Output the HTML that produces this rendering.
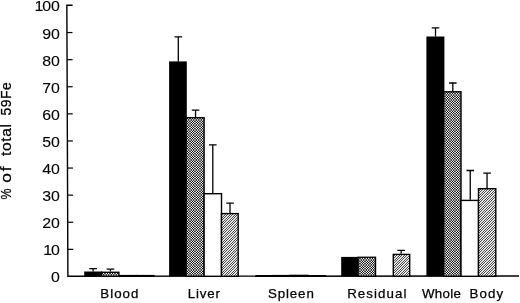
<!DOCTYPE html>
<html><head><meta charset="utf-8"><title>Chart</title>
<style>
html,body{margin:0;padding:0;background:#fff;}
svg{display:block}
.t{font-family:"Liberation Sans",sans-serif;font-size:13.3px;fill:#000;stroke:#000;stroke-width:0.25px;}
.n{font-family:"Liberation Sans",sans-serif;font-size:14.1px;fill:#000;stroke:#000;stroke-width:0.1px;}
.v{font-size:13.9px}
</style></head><body>
<svg width="520" height="303" viewBox="0 0 520 303">
<defs>
<pattern id="chk" x="0" y="0" width="5" height="5" patternUnits="userSpaceOnUse" shape-rendering="crispEdges"><rect x="0" y="0" width="1" height="1" fill="#979797"/><rect x="1" y="0" width="1" height="1" fill="#434343"/><rect x="2" y="0" width="1" height="1" fill="#cacaca"/><rect x="3" y="0" width="1" height="1" fill="#434343"/><rect x="4" y="0" width="1" height="1" fill="#979797"/><rect x="0" y="1" width="1" height="1" fill="#434343"/><rect x="1" y="1" width="1" height="1" fill="#ffffff"/><rect x="2" y="1" width="1" height="1" fill="#000000"/><rect x="3" y="1" width="1" height="1" fill="#ffffff"/><rect x="4" y="1" width="1" height="1" fill="#434343"/><rect x="0" y="2" width="1" height="1" fill="#cacaca"/><rect x="1" y="2" width="1" height="1" fill="#000000"/><rect x="2" y="2" width="1" height="1" fill="#ffffff"/><rect x="3" y="2" width="1" height="1" fill="#000000"/><rect x="4" y="2" width="1" height="1" fill="#cacaca"/><rect x="0" y="3" width="1" height="1" fill="#434343"/><rect x="1" y="3" width="1" height="1" fill="#ffffff"/><rect x="2" y="3" width="1" height="1" fill="#000000"/><rect x="3" y="3" width="1" height="1" fill="#ffffff"/><rect x="4" y="3" width="1" height="1" fill="#434343"/><rect x="0" y="4" width="1" height="1" fill="#979797"/><rect x="1" y="4" width="1" height="1" fill="#434343"/><rect x="2" y="4" width="1" height="1" fill="#cacaca"/><rect x="3" y="4" width="1" height="1" fill="#434343"/><rect x="4" y="4" width="1" height="1" fill="#979797"/></pattern>
<pattern id="hat" x="0" y="0" width="5" height="5" patternUnits="userSpaceOnUse" shape-rendering="crispEdges"><rect x="0" y="0" width="1" height="1" fill="#ffffff"/><rect x="1" y="0" width="1" height="1" fill="#4c4c4c"/><rect x="2" y="0" width="1" height="1" fill="#e1e1e1"/><rect x="3" y="0" width="1" height="1" fill="#e1e1e1"/><rect x="4" y="0" width="1" height="1" fill="#4c4c4c"/><rect x="0" y="1" width="1" height="1" fill="#4c4c4c"/><rect x="1" y="1" width="1" height="1" fill="#e1e1e1"/><rect x="2" y="1" width="1" height="1" fill="#e1e1e1"/><rect x="3" y="1" width="1" height="1" fill="#4c4c4c"/><rect x="4" y="1" width="1" height="1" fill="#ffffff"/><rect x="0" y="2" width="1" height="1" fill="#e1e1e1"/><rect x="1" y="2" width="1" height="1" fill="#e1e1e1"/><rect x="2" y="2" width="1" height="1" fill="#4c4c4c"/><rect x="3" y="2" width="1" height="1" fill="#ffffff"/><rect x="4" y="2" width="1" height="1" fill="#4c4c4c"/><rect x="0" y="3" width="1" height="1" fill="#e1e1e1"/><rect x="1" y="3" width="1" height="1" fill="#4c4c4c"/><rect x="2" y="3" width="1" height="1" fill="#ffffff"/><rect x="3" y="3" width="1" height="1" fill="#4c4c4c"/><rect x="4" y="3" width="1" height="1" fill="#e1e1e1"/><rect x="0" y="4" width="1" height="1" fill="#4c4c4c"/><rect x="1" y="4" width="1" height="1" fill="#ffffff"/><rect x="2" y="4" width="1" height="1" fill="#4c4c4c"/><rect x="3" y="4" width="1" height="1" fill="#e1e1e1"/><rect x="4" y="4" width="1" height="1" fill="#e1e1e1"/></pattern>
</defs>
<rect width="520" height="303" fill="#fff"/>
<path d="M72.6 5.2L66.85 5.2L67.9 276.3L519 276.0" fill="none" stroke="#000" stroke-width="1.4" stroke-linejoin="miter"/>
<path d="M67.80 249.35H73.30" stroke="#000" stroke-width="1.2"/>
<path d="M67.69 222.25H73.19" stroke="#000" stroke-width="1.2"/>
<path d="M67.59 195.15H73.09" stroke="#000" stroke-width="1.2"/>
<path d="M67.48 168.05H72.98" stroke="#000" stroke-width="1.2"/>
<path d="M67.38 140.95H72.88" stroke="#000" stroke-width="1.2"/>
<path d="M67.27 113.85H72.77" stroke="#000" stroke-width="1.2"/>
<path d="M67.16 86.75H72.66" stroke="#000" stroke-width="1.2"/>
<path d="M67.06 59.65H72.56" stroke="#000" stroke-width="1.2"/>
<path d="M66.95 32.55H72.45" stroke="#000" stroke-width="1.2"/>
<text transform="translate(59.9 282.40) scale(1.13 1)" text-anchor="end" class="n">0</text>
<text transform="translate(59.9 255.30) scale(1.13 1)" text-anchor="end" class="n"><tspan x="-6.84">1</tspan><tspan x="0">0</tspan></text>
<text transform="translate(59.9 228.20) scale(1.13 1)" text-anchor="end" class="n">20</text>
<text transform="translate(59.9 201.10) scale(1.13 1)" text-anchor="end" class="n">30</text>
<text transform="translate(59.9 174.00) scale(1.13 1)" text-anchor="end" class="n">40</text>
<text transform="translate(59.9 146.90) scale(1.13 1)" text-anchor="end" class="n">50</text>
<text transform="translate(59.9 119.80) scale(1.13 1)" text-anchor="end" class="n">60</text>
<text transform="translate(59.9 92.70) scale(1.13 1)" text-anchor="end" class="n">70</text>
<text transform="translate(59.9 65.60) scale(1.13 1)" text-anchor="end" class="n">80</text>
<text transform="translate(59.9 38.50) scale(1.13 1)" text-anchor="end" class="n">90</text>
<text transform="translate(59.9 11.40) scale(1.13 1)" text-anchor="end" class="n"><tspan x="-14.68">1</tspan><tspan x="0">00</tspan></text>
<path d="M89.30 268.70H96.90M93.10 268.70V271.50" stroke="#000" stroke-width="1.3" fill="none"/>
<rect x="84.20" y="271.50" width="18.10" height="4.80" fill="#000"/>
<path d="M106.65 269.10H114.25M110.45 269.10V271.60" stroke="#000" stroke-width="1.3" fill="none"/>
<rect x="101.60" y="272.30" width="17.30" height="4.00" fill="url(#chk)" stroke="#000" stroke-width="1.4"/>
<rect x="118.90" y="275.60" width="17.60" height="0.70" fill="#fff" stroke="#000" stroke-width="1.4"/>
<rect x="136.50" y="275.60" width="17.40" height="0.70" fill="url(#hat)" stroke="#000" stroke-width="1.4"/>
<path d="M174.50 36.80H182.10M178.30 36.80V61.40" stroke="#000" stroke-width="1.3" fill="none"/>
<rect x="169.10" y="61.40" width="17.70" height="214.90" fill="#000"/>
<path d="M191.75 110.20H199.35M195.55 110.20V117.00" stroke="#000" stroke-width="1.3" fill="none"/>
<rect x="186.10" y="117.70" width="18.00" height="158.60" fill="url(#chk)" stroke="#000" stroke-width="1.4"/>
<path d="M209.00 144.90H216.60M212.80 144.90V193.00" stroke="#000" stroke-width="1.3" fill="none"/>
<rect x="204.10" y="193.70" width="17.40" height="82.60" fill="#fff" stroke="#000" stroke-width="1.4"/>
<path d="M226.20 203.20H233.80M230.00 203.20V212.90" stroke="#000" stroke-width="1.3" fill="none"/>
<rect x="221.50" y="213.60" width="16.70" height="62.70" fill="url(#hat)" stroke="#000" stroke-width="1.4"/>
<rect x="255.50" y="275.00" width="17.50" height="1.30" fill="#000"/>
<rect x="273.00" y="275.60" width="17.50" height="0.70" fill="url(#chk)" stroke="#000" stroke-width="1.4"/>
<rect x="290.50" y="275.40" width="17.50" height="0.90" fill="#fff" stroke="#000" stroke-width="1.4"/>
<rect x="308.00" y="275.70" width="17.50" height="0.60" fill="url(#hat)" stroke="#000" stroke-width="1.4"/>
<rect x="341.20" y="256.90" width="17.60" height="19.40" fill="#000"/>
<rect x="358.10" y="257.30" width="17.40" height="19.00" fill="url(#chk)" stroke="#000" stroke-width="1.4"/>
<path d="M397.35 250.40H404.95M401.15 250.40V253.70" stroke="#000" stroke-width="1.3" fill="none"/>
<rect x="393.30" y="254.40" width="16.40" height="21.90" fill="url(#hat)" stroke="#000" stroke-width="1.4"/>
<path d="M431.70 27.90H439.30M435.50 27.90V36.50" stroke="#000" stroke-width="1.3" fill="none"/>
<rect x="426.40" y="36.50" width="18.00" height="239.80" fill="#000"/>
<path d="M449.00 83.00H456.60M452.80 83.00V91.10" stroke="#000" stroke-width="1.3" fill="none"/>
<rect x="443.70" y="91.80" width="17.30" height="184.50" fill="url(#chk)" stroke="#000" stroke-width="1.4"/>
<path d="M466.45 170.50H474.05M470.25 170.50V199.70" stroke="#000" stroke-width="1.3" fill="none"/>
<rect x="461.00" y="200.40" width="17.50" height="75.90" fill="#fff" stroke="#000" stroke-width="1.4"/>
<path d="M483.25 173.10H490.85M487.05 173.10V188.00" stroke="#000" stroke-width="1.3" fill="none"/>
<rect x="478.50" y="188.70" width="17.30" height="87.60" fill="url(#hat)" stroke="#000" stroke-width="1.4"/>
<text x="100.30" y="298.45" class="t" textLength="38.10" lengthAdjust="spacing">Blood</text>
<text x="187.80" y="298.45" class="t" textLength="32.20" lengthAdjust="spacing">Liver</text>
<text x="267.90" y="298.45" class="t" textLength="45.90" lengthAdjust="spacing">Spleen</text>
<text x="347.20" y="298.45" class="t" textLength="59.20" lengthAdjust="spacing">Residual</text>
<text x="422.00" y="298.45" class="t" textLength="38.80" lengthAdjust="spacing">Whole</text>
<text x="469.60" y="298.45" class="t" textLength="33.60" lengthAdjust="spacing">Body</text>
<text transform="translate(11.4 199.60) rotate(-90) scale(1.0 1)" class="t v" textLength="11.00" lengthAdjust="spacingAndGlyphs">%</text>
<text transform="translate(11.4 182.70) rotate(-90) scale(1.25 1)" class="t v" textLength="13.04" lengthAdjust="spacing">of</text>
<text transform="translate(11.4 155.90) rotate(-90) scale(1.12 1)" class="t v" textLength="28.48" lengthAdjust="spacing">total</text>
<text transform="translate(11.4 115.60) rotate(-90) scale(1.0 1)" class="t v" textLength="33.30" lengthAdjust="spacing">59Fe</text>
</svg>
</body></html>
